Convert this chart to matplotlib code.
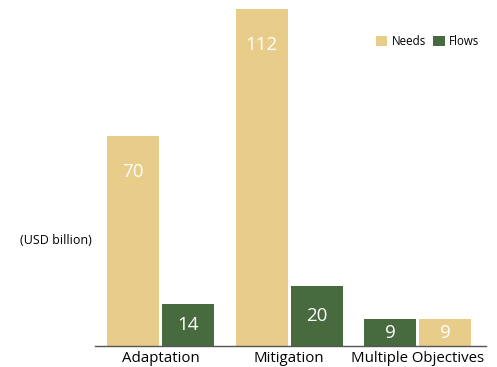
import numpy as np
import matplotlib.pyplot as plt

plt.rcParams['font.family'] = ['Open Sans', 'DejaVu Sans']

categories = ["Adaptation", "Mitigation", "Multiple Objectives"]
needs = [70, 112, 9]
flows = [14, 20, 9]
# order of the two bars in each group (Multiple Objectives has Flows first)
needs_first = [True, True, False]

c_needs = "#E8CC8A"
c_flows = "#476A3F"

fig = plt.figure(figsize=(4.97, 3.67), dpi=100)
ax = fig.add_axes([0.191, 0.057, 0.787, 0.918])

x = np.arange(len(categories))
w = 0.405
off = 0.214

for i in range(len(categories)):
    if needs_first[i]:
        xn, xf = x[i] - off, x[i] + off
    else:
        xn, xf = x[i] + off, x[i] - off
    ax.bar(xn, needs[i], w, color=c_needs, label="Needs" if i == 0 else None)
    ax.bar(xf, flows[i], w, color=c_flows, label="Flows" if i == 0 else None)
    for xv, v in ((xn, needs[i]), (xf, flows[i])):
        ax.text(xv, max(v - 12, v / 2), str(v), color="white", fontsize=13.5,
                ha="center", va="center")

ax.set_xlim(-0.51, 2.53)
ax.set_ylim(0, 112)
ax.set_xticks(x)
ax.set_xticklabels(categories, fontsize=10.8)
ax.tick_params(axis="x", length=0, pad=3.5)
ax.set_yticks([])
for s in ["top", "right", "left"]:
    ax.spines[s].set_visible(False)
ax.spines["bottom"].set_color("#555555")
ax.spines["bottom"].set_linewidth(1)

fig.text(0.04, 0.345, "(USD billion)", fontsize=9, va="center")

ax.legend(loc="upper right", bbox_to_anchor=(1.01, 0.955), ncol=2, frameon=False,
          fontsize=8.3, handlelength=1.0, handleheight=1.0, handletextpad=0.4,
          columnspacing=0.6)

fig.savefig("out.png", dpi=100)
